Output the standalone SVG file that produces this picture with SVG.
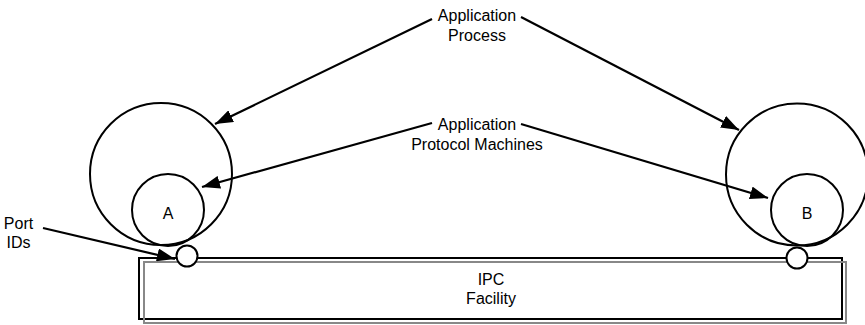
<svg xmlns="http://www.w3.org/2000/svg" width="865" height="325" viewBox="0 0 865 325">
  <defs>
    <marker id="arrow" markerUnits="userSpaceOnUse" markerWidth="18" markerHeight="13" refX="18" refY="6.5" orient="auto">
      <path d="M0,0 L18,6.5 L0,13 z" fill="#000"/>
    </marker>
    <style>
      .lbl { font-family: "Liberation Sans", Arial, sans-serif; font-size: 16px; fill: #000; text-anchor: middle; }
      .node { fill: none; stroke: #000; stroke-width: 2; }
      .port { fill: #fff; stroke: #000; stroke-width: 2; }
      .conn { stroke: #000; stroke-width: 2.2; fill: none; marker-end: url(#arrow); }
    </style>
  </defs>
  <rect width="865" height="325" fill="#fff"/>

  <g id="ipc-facility">
    <rect x="139" y="258" width="703" height="61" class="node"/>
    <rect x="144" y="262" width="702" height="61" fill="none" stroke="#888" stroke-width="2"/>
    <text class="lbl" x="491" y="285">IPC</text>
    <text class="lbl" x="491" y="304">Facility</text>
  </g>

  <g id="process-a">
    <circle cx="161" cy="174" r="71" class="node"/>
  </g>
  <g id="apm-a">
    <circle cx="168" cy="210" r="36" class="node"/>
    <text class="lbl" x="168" y="219">A</text>
  </g>
  <g id="process-b">
    <circle cx="797" cy="174.5" r="71" class="node"/>
  </g>
  <g id="apm-b">
    <circle cx="807" cy="210" r="36" class="node"/>
    <text class="lbl" x="807" y="219">B</text>
  </g>
  <g id="port-a">
    <circle cx="187" cy="256" r="10.5" class="port"/>
  </g>
  <g id="port-b">
    <circle cx="797" cy="258" r="10.5" class="port"/>
  </g>

  <g id="label-process">
    <text class="lbl" x="477" y="21">Application</text>
    <text class="lbl" x="477" y="40.5">Process</text>
  </g>
  <g id="label-apm">
    <text class="lbl" x="477" y="130">Application</text>
    <text class="lbl" x="477" y="149.5">Protocol Machines</text>
  </g>
  <g id="label-port">
    <text class="lbl" x="18.5" y="229">Port</text>
    <text class="lbl" x="18.5" y="248">IDs</text>
  </g>

  <g id="connectors">
    <line x1="432" y1="19" x2="215" y2="124" class="conn"/>
    <line x1="521" y1="17" x2="739" y2="130" class="conn"/>
    <line x1="432" y1="123" x2="202" y2="187" class="conn"/>
    <line x1="521" y1="124" x2="768" y2="198" class="conn"/>
    <line x1="43" y1="228" x2="175" y2="259" class="conn"/>
  </g>
</svg>
